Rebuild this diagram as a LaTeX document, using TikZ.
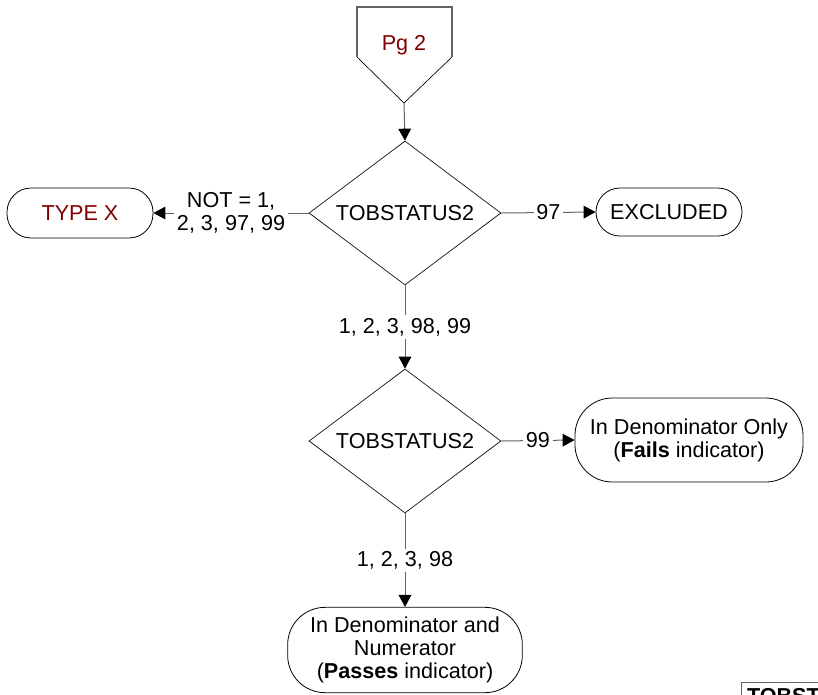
\documentclass[tikz,border=0pt]{standalone}
\usepackage{fontspec}
\setmainfont{Liberation Sans}
\usetikzlibrary{arrows.meta,shapes.geometric}
\definecolor{pgred}{RGB}{128,0,0}
\definecolor{linegray}{RGB}{100,100,100}

\tikzset{
    decision/.style={draw, diamond, aspect=1.333, minimum width=144pt, minimum height=108pt, inner sep=1pt, line width=0.5pt},
    terminal/.style={draw, rectangle, rounded corners=18pt, align=center, inner sep=2pt, line width=0.6pt},
    flow/.style={draw=linegray, line width=0.75pt, -{Triangle[length=9pt, width=9.5pt, color=black]}},
    cond/.style={fill=white, inner sep=2pt, align=center, text=black}
}

\begin{document}
\begin{tikzpicture}[x=0.75pt, y=-0.75pt, font=\fontsize{16.2}{17.4}\selectfont]
            \useasboundingbox (0, 0) rectangle (818, 694);
            \clip (0, 0) rectangle (818, 694);
            \draw[linegray, line width=1pt] (357, 57)--(357, 7)--(452, 7)--(452, 57);
            \draw[line width=0.5pt] (357, 57)--(404, 103)--(452, 57);
            \node[text=pgred] (pg) at (404, 45) {Pg 2};
            \coordinate (pgtip) at (404, 103);
            \node[decision] (tob1) at (405, 213) {TOBSTATUS2};
            \node[terminal, minimum width=109.5pt, minimum height=37.5pt, text=pgred] (typex) at (80, 213) {TYPE X};
            \node[terminal, minimum width=109.5pt, minimum height=36pt] (excl) at (669, 212) {EXCLUDED};
            \node[decision] (tob2) at (405, 441) {TOBSTATUS2};
            \node[terminal, minimum width=171pt, minimum height=63pt, rounded corners=28pt] (only) at (689, 440) {In Denominator Only\\(\textbf{Fails} indicator)};
            \node[terminal, minimum width=176pt, minimum height=64pt, rounded corners=28pt] (both) at (405, 650) {In Denominator and\\Numerator\\(\textbf{Passes} indicator)};
            \node[draw=linegray, line width=1pt, anchor=north west, inner sep=4pt, font=\fontsize{16.2}{17.4}\selectfont\bfseries] (legend) at (741, 682) {TOBSTATUS2};
            \draw[flow] (pgtip)--(tob1.north);
            \draw[flow] (tob1.west)--node[cond] {NOT = 1,\\2, 3, 97, 99} (typex.east);
            \draw[flow] (tob1.east)--node[cond] {97} (excl.west);
            \draw[flow] (tob1.south)--node[cond] {1, 2, 3, 98, 99} (tob2.north);
            \draw[flow] (tob2.east)--node[cond] {99} (only.west);
            \draw[flow] (tob2.south)--node[cond] {1, 2, 3, 98} (both.north);
        \end{tikzpicture}
\end{document}
